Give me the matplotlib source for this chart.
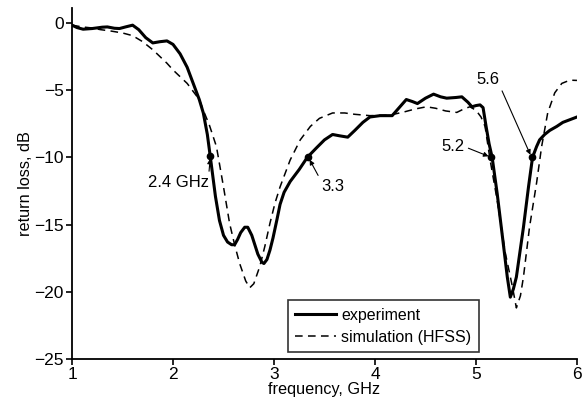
import numpy as np
import matplotlib
matplotlib.use("Agg")
import matplotlib.pyplot as plt

plt.rcParams['font.family'] = ['Liberation Sans', 'DejaVu Sans']

exp_f = [1.00, 1.05, 1.11, 1.20, 1.30, 1.35, 1.42, 1.47, 1.53, 1.60, 1.66, 1.73, 1.80, 1.87,
         1.94, 2.00, 2.07, 2.14, 2.20, 2.26, 2.30, 2.34, 2.37, 2.42, 2.46, 2.50, 2.54, 2.58,
         2.61, 2.64, 2.67, 2.71, 2.74, 2.78, 2.84, 2.88, 2.90, 2.93, 2.96, 2.99, 3.03, 3.06,
         3.10, 3.16, 3.25, 3.33, 3.42, 3.50, 3.58, 3.65, 3.73, 3.80, 3.88, 3.95, 4.05, 4.17,
         4.24, 4.31, 4.37, 4.42, 4.50, 4.58, 4.65, 4.71, 4.80, 4.86, 4.92, 4.96, 5.00, 5.04,
         5.07, 5.10, 5.13, 5.16, 5.21, 5.27, 5.31, 5.34, 5.37, 5.40, 5.47, 5.52, 5.56, 5.60,
         5.63, 5.68, 5.73, 5.80, 5.86, 5.93, 6.00]
exp_db = [-0.17, -0.35, -0.47, -0.42, -0.32, -0.30, -0.40, -0.42, -0.30, -0.17, -0.50, -1.10,
          -1.49, -1.40, -1.34, -1.60, -2.30, -3.30, -4.50, -5.70, -6.70, -8.30, -10.0, -12.9,
          -14.7, -15.8, -16.3, -16.5, -16.5, -16.1, -15.6, -15.2, -15.2, -15.8, -17.2, -17.8,
          -17.9, -17.6, -16.9, -16.0, -14.6, -13.5, -12.6, -11.8, -10.9, -10.0, -9.3, -8.7,
          -8.3, -8.4, -8.5, -8.0, -7.4, -7.0, -6.9, -6.9, -6.3, -5.7, -5.85, -6.0, -5.6, -5.3,
          -5.5, -5.6, -5.55, -5.5, -5.9, -6.24, -6.15, -6.1, -6.3, -7.7, -9.0, -10.0, -12.7,
          -16.4, -18.9, -20.4, -19.8, -18.9, -15.2, -12.2, -10.0, -9.2, -8.7, -8.3, -8.0,
          -7.7, -7.4, -7.2, -7.0]

# HFSS simulation
sim_f = [1.00, 1.10, 1.20, 1.28, 1.38, 1.50, 1.60, 1.70, 1.80, 1.87, 1.94, 2.00, 2.07, 2.14,
         2.20, 2.26, 2.30, 2.36, 2.43, 2.50, 2.56, 2.61, 2.66, 2.72, 2.76, 2.80, 2.86, 2.91,
         2.96, 3.01, 3.06, 3.16, 3.26, 3.36, 3.45, 3.58, 3.70, 3.80, 3.95, 4.15, 4.30, 4.40,
         4.51, 4.60, 4.70, 4.81, 4.88, 4.94, 5.00, 5.05, 5.09, 5.14, 5.21, 5.29, 5.36, 5.40,
         5.44, 5.47, 5.53, 5.60, 5.65, 5.71, 5.78, 5.85, 5.93, 6.00]
sim_db = [-0.17, -0.30, -0.38, -0.50, -0.60, -0.75, -0.95, -1.40, -2.00, -2.50, -3.00, -3.50,
          -4.00, -4.50, -5.10, -5.70, -6.50, -7.60, -9.20, -12.2, -14.9, -16.5, -17.9, -19.2,
          -19.7, -19.4, -18.1, -16.6, -14.9, -13.4, -12.2, -10.2, -8.7, -7.7, -7.1, -6.7, -6.7,
          -6.8, -6.9, -6.86, -6.6, -6.4, -6.24, -6.35, -6.55, -6.66, -6.4, -6.24, -6.5, -7.0,
          -7.7, -10.2, -13.2, -17.1, -19.6, -21.2, -20.3, -18.9, -15.2, -11.9, -9.2, -6.7,
          -5.2, -4.5, -4.26, -4.28]

# marked -10 dB points and their labels
mark_f = [2.37, 3.34, 5.15, 5.55]
mark_db = [-9.9, -10.0, -10.0, -10.0]
mark_txt = ["2.4 GHz", "3.3", "5.2", "5.6"]
txt_pos = [(2.05, -11.9), (3.58, -12.2), (4.77, -9.2), (5.12, -4.2)]
txt_rel = [(1.0, 0.9), (0.0, 0.9), (1.0, 0.5), (1.0, 0.1)]

fig = plt.figure(figsize=(5.86, 4.05), dpi=100)
ax = fig.add_axes([0.1229, 0.1136, 0.8617, 0.8664])

ax.plot(exp_f, exp_db, color='black', lw=2.2, label='experiment', solid_joinstyle='round')
ax.plot(sim_f, sim_db, color='black', lw=1.1, dashes=(5, 3.5), label='simulation (HFSS)')
ax.plot(mark_f, mark_db, 'o', color='black', ms=4.5)

for f, db, t, p, r in zip(mark_f, mark_db, mark_txt, txt_pos, txt_rel):
    ax.annotate(t, xy=(f, db), xytext=p, ha='center', va='center', fontsize=12,
                arrowprops=dict(arrowstyle='-|>', color='black', lw=0.8,
                                mutation_scale=7, shrinkA=1, shrinkB=2, relpos=r))

ax.set_xlim(1, 6)
ax.set_ylim(-25, 1.1)
ax.set_xticks([1, 2, 3, 4, 5, 6])
ax.set_yticks([0, -5, -10, -15, -20, -25])
ax.set_yticklabels(['0', '\u22125', '\u221210', '\u221215', '\u221220', '\u221225'])
ax.tick_params(direction='out', length=4, width=1.2, labelsize=12.5, pad=2)
ax.spines['top'].set_visible(False)
ax.spines['right'].set_visible(False)
ax.spines['left'].set_linewidth(1.3)
ax.spines['bottom'].set_linewidth(1.3)
ax.set_xlabel('frequency, GHz', fontsize=11.7, labelpad=0)
ax.set_ylabel('return loss, dB', fontsize=11.7, labelpad=1)

leg = ax.legend(loc='lower left', bbox_to_anchor=(0.427, 0.02, 0.378, 0.154), mode='expand',
                fontsize=11.5, frameon=True, fancybox=False, handlelength=2.6,
                borderpad=0.45, labelspacing=0.45, handletextpad=0.3, borderaxespad=0)
leg.get_frame().set_edgecolor('black')
leg.get_frame().set_linewidth(1.2)

fig.savefig('out.png', dpi=100)
